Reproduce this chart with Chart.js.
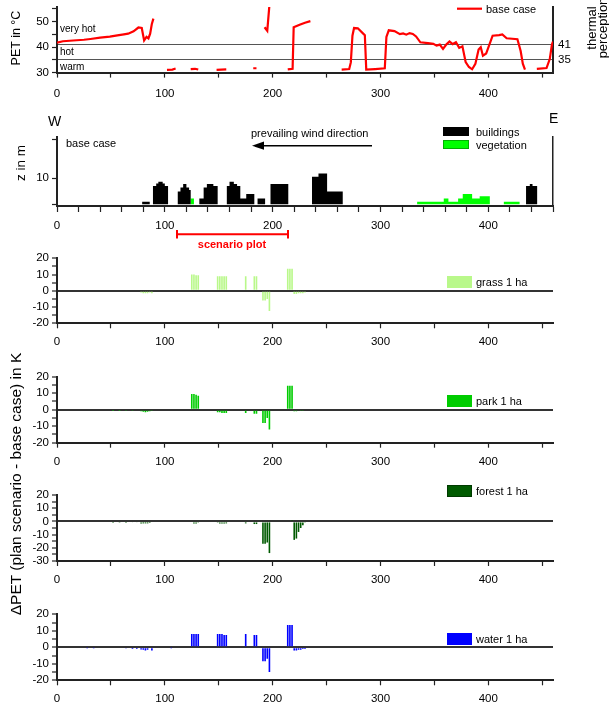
<!DOCTYPE html>
<html>
<head>
<meta charset="utf-8">
<title>PET transect</title>
<script src="https://cdn.jsdelivr.net/npm/chart.js@4.4.1/dist/chart.umd.min.js"></script>
<style>
  body { margin: 0; background: #fff; }
  #fig { position: relative; width: 609px; height: 703px; overflow: hidden; font-family: 'Liberation Sans', Arial, sans-serif; color: #000; }
  #fig canvas { position: absolute; left: 0; }
  .txt { position: absolute; white-space: nowrap; transform: translateY(-50%); line-height: 1; }
  .vtxt { position: absolute; white-space: nowrap; transform: translate(-50%, -50%) rotate(-90deg); text-align: center; }
  .box { position: absolute; box-sizing: border-box; }
</style>
</head>
<body>
<div id="fig">
  <svg width="609" height="703" style="position:absolute;left:0;top:0;z-index:2">
    <line x1="457" y1="8.7" x2="482" y2="8.7" stroke="#ff0000" stroke-width="2.2"/>
    <line x1="262" y1="145.7" x2="372" y2="145.7" stroke="#000" stroke-width="1.5"/>
    <polygon points="252,145.7 264,141.6 264,149.8" fill="#000"/>
    <line x1="177" y1="234.3" x2="288" y2="234.3" stroke="#ff0000" stroke-width="2"/>
    <line x1="177" y1="230" x2="177" y2="238.6" stroke="#ff0000" stroke-width="2"/>
    <line x1="288" y1="230" x2="288" y2="238.6" stroke="#ff0000" stroke-width="2"/>
  </svg>
</div>
<script>
// ---- values ----
let xTicks = [0, 50, 100, 150, 200, 250, 300, 350, 400, 450]
let profileTicks = [0, 20, 40, 60, 80, 100, 120, 140, 160, 180, 200, 220, 240, 260, 280, 300, 320, 340, 360, 380, 400, 420, 440, 460]
let petTicks = [30, 35, 40, 45, 50, 55]
let perceptionTicks = [35, 41]
let heightTicks = [0, 10, 25]
let diffTicks = [-20, -15, -10, -5, 0, 5, 10, 15, 20]
let forestTicks = [-30, -25, -20, -15, -10, -5, 0, 5, 10, 15, 20]

// PET of the base case along the transect (null = no value)
let petX = [0, 5.5, 15, 25, 31, 40, 49, 56, 62, 66, 71, 75.5, 78.6, 80.8, 83, 84.8, 86.4, 87.9, 89.4, 95,
    102, 107, 110, 117, 124, 128, 131, 140, 148, 157, 170, 182, 185, 189,
    192.5, 195, 197, 205, 214, 218.5, 219.5, 225, 230, 235, 250,
    264, 271, 272.5, 274, 275.5, 279, 284, 285.5, 286.8, 295, 304, 305.5, 307.7, 313, 318, 321, 324, 327, 330, 333,
    337, 344, 349, 352, 355, 358, 361, 364, 367, 370, 373, 376, 379, 382, 385, 388, 391, 393, 395, 398,
    401, 404, 410, 413, 417, 427, 430, 432, 434, 440, 445, 454, 457, 459, 460]
let petBase = [41.8, 42.3, 42.6, 42.9, 43.2, 43.7, 44.1, 44.6, 45, 45.3, 46.2, 47.7, 47.5, 42.6, 44, 43.4, 45.3, 49, 51.2, null,
    31.1, 31.2, 31.6, null, 31.4, 31.5, 31.2, null, 31.1, 31.3, null, 31.7, 31.7, null,
    47.8, 46.4, 56.5, null, 31.3, 31.5, 47.8, 48.8, 49.6, 50.2, null,
    31.2, 31.4, 34, 44.5, 47.5, 47.4, 45.3, 44.7, 31.2, 31.4, 31.7, 44, 46.6, 46.3, 45.1, 45.4, 44.9, 45.5, 45.2, 44.2,
    41.9, 41.6, 41.3, 40.6, 41, 39.3, 41, 42.2, 41.2, 41.9, 39.7, 40.3, 34.1, 32.2, 31.3, 33.4, 39.1, 40, 36.6, 37.5,
    41, 44.5, 44.7, 45, 43.5, 43.1, 38.5, 33.5, 31.2, null, 31.5, 31.8, 35.3, 41, 42.2]

// building / vegetation heights: z holds from x[i] to x[i+1]
let buildX = [0, 79, 86, 89, 92, 94, 98, 100, 103, 112, 114.5, 117, 120, 122.5, 124, 132, 136, 139, 145, 149,
    157.5, 160, 164, 167, 170, 175.5, 183, 186, 193, 198, 214.5, 236.5, 242.5, 250.5, 265, 435, 438.5, 441, 445.3, 460]
let buildZ = [0, 1, 0, 7, 8, 8.7, 8, 7, 0, 4.9, 6.5, 7.8, 6.5, 5.5, 0, 2.2, 6.5, 7.8, 7, 0,
    7, 8.7, 7.8, 7, 2.2, 4, 0, 2.2, 0, 7.8, 0, 10.6, 11.9, 4.9, 0, 7, 7.8, 7, 0, 0]
let vegX = [0, 124, 127, 334, 358.7, 363, 372, 376.3, 385, 392, 401.4, 414.4, 429, 460]
let vegZ = [0, 2.2, 0, 1, 2.2, 1, 2.2, 4, 2.2, 3.1, 0, 1, 0, 0]

// delta PET (plan scenario - base case) in K
let diffX = [28, 34, 40, 46, 52, 58, 64, 70, 74, 78, 80, 82, 84, 86, 88, 106, 125, 127, 129, 131, 149, 151, 153, 155, 157,
    175, 183, 185, 191, 193, 195, 197, 214, 216, 218, 220, 222, 224, 226, 228, 230]
let diffGrass = [0, 0, 0, 0, 0, 0, 0, 0, 0, -1, -1.5, -1.5, -1.5, -1, -1.5, 0, 10, 10, 9.5, 9.5, 9, 9, 9, 9, 9,
    9, 9, 9, -6, -6, -5, -12.5, 13.5, 13.5, 13.5, -2, -2, -1.5, -1.5, -1.5, -1]
let diffPark = [0, 0, 0, 0, -0.3, -0.3, -0.5, -0.5, -0.7, -1, -1.3, -1.5, -1.3, -1, -0.5, 0, 9.5, 9.5, 9, 8.5, -1.5, -1.5, -2, -2, -2,
    -2, -2.5, -2.5, -8, -8, -5, -12, 14.5, 14.5, 14.5, -1, -1, -0.7, -0.5, -0.5, 0]
let diffForest = [0, 0, 0, 0, -0.5, -0.5, -0.5, -0.7, -0.7, -1.5, -1.5, -1.5, -1.5, -1.2, 0, 0, 0, -1.5, -1.5, -1, -1, -1.5, -1.5, -1.5, -1.5,
    -1.5, -2, -2, -17, -17, -16, -24, 0, 0, 1, -14, -13, -8, -5, -3, -1]
let diffWater = [-0.3, -0.3, 0, -0.5, -0.5, -0.5, -0.7, -1, -1, -1.3, -1.5, -2, -1.5, -0.5, -2, -0.3, 8, 8, 8, 8, 8, 8, 8, 7.5, 7.5,
    8, 7.5, 7.5, -8.5, -8.5, -7, -15, 13.5, 13.5, 13.5, -2, -2, -1.5, -1.5, -1, -1]

let scenarioNames = ['grass 1 ha', 'park 1 ha', 'forest 1 ha', 'water 1 ha']
let scenarioColors = ['#b9f88a', '#00cc00', '#005a00', '#0000ff']

// ---- layout helpers ----
let fig = document.getElementById('fig')
let axisColor = '#222'
let fontFamily = "'Liberation Sans', Arial, sans-serif"
let tickFont = { family: fontFamily, size: 11.5 }
let plotRightPad = 609 - 553

function makeCanvas(areaTop, areaBottom, below) {
    let top = Math.floor(areaTop) - 10
    let height = Math.ceil(areaBottom + below) - top
    let canvas = document.createElement('canvas')
    canvas.width = 609
    canvas.height = height
    canvas.style.top = top + 'px'
    fig.insertBefore(canvas, fig.firstChild)
    return { canvas: canvas, padTop: areaTop - top, axisHeight: top + height - areaBottom }
}

function fixedTicks(values) {
    return function (scale) { scale.ticks = values.map(v => ({ value: v })) }
}

function xScale(ticks, axisHeight, tickLen, pad) {
    return {
        type: 'linear', min: 0, max: 460, offset: false,
        afterBuildTicks: fixedTicks(ticks),
        afterFit: s => { s.height = axisHeight },
        ticks: { autoSkip: false, maxRotation: 0, color: '#000', font: tickFont, padding: pad,
            callback: v => v % 100 === 0 ? v : '' },
        grid: { drawOnChartArea: false, offset: false, tickLength: tickLen, tickColor: axisColor, tickWidth: 1.2 },
        border: { color: axisColor, width: 2 }
    }
}

function yScale(min, max, ticks, labelled, extraGrid) {
    return {
        min: min, max: max,
        afterBuildTicks: fixedTicks(ticks),
        afterFit: s => { s.width = 57 },
        ticks: { autoSkip: false, color: '#000', font: tickFont, padding: 3,
            callback: v => labelled.indexOf(v) != -1 ? v : '' },
        grid: Object.assign({ drawOnChartArea: false, tickLength: 5, tickColor: axisColor, tickWidth: 1.2 }, extraGrid || {}),
        border: { color: axisColor, width: 2 }
    }
}

function label(text, x, y, size, extra) {
    let d = document.createElement('div')
    d.className = 'txt'
    d.textContent = text
    d.style.left = x + 'px'
    d.style.top = y + 'px'
    d.style.fontSize = size + 'px'
    if (extra) Object.assign(d.style, extra)
    fig.appendChild(d)
}

function vlabel(lines, cx, cy, size, lineHeight) {
    let d = document.createElement('div')
    d.className = 'vtxt'
    d.innerHTML = lines.join('<br>')
    d.style.left = cx + 'px'
    d.style.top = cy + 'px'
    d.style.fontSize = size + 'px'
    d.style.lineHeight = (lineHeight || size * 1.1) + 'px'
    fig.appendChild(d)
}

function box(x, y, w, h, fill, border) {
    let d = document.createElement('div')
    d.className = 'box'
    Object.assign(d.style, { left: x + 'px', top: y + 'px', width: w + 'px', height: h + 'px', background: fill,
        border: '1px solid ' + (border || fill) })
    fig.appendChild(d)
}

let baseOptions = {
    responsive: false,
    animation: false,
    events: [],
    plugins: { legend: { display: false }, tooltip: { enabled: false } }
}

// ---- panel 1: PET base case ----
let p1 = makeCanvas(5, 72.6, 30)
new Chart(p1.canvas, {
    type: 'line',
    data: {
        datasets: [{
            data: petX.map((x, i) => ({ x: x, y: petBase[i] })),
            borderColor: '#ff0000', borderWidth: 2.2, pointRadius: 0, spanGaps: false, tension: 0
        }]
    },
    options: Object.assign({}, baseOptions, {
        layout: { padding: { top: p1.padTop, left: 0, right: 0, bottom: 0 } },
        scales: {
            x: xScale(xTicks, p1.axisHeight, 5, 9),
            y: yScale(30, 55.8, petTicks, [30, 40, 50]),
            y2: {
                position: 'right', min: 30, max: 55.8,
                afterBuildTicks: fixedTicks(perceptionTicks),
                afterFit: s => { s.width = plotRightPad },
                ticks: { color: '#000', font: tickFont, padding: 5 },
                grid: { drawOnChartArea: true, drawTicks: false, color: '#555', lineWidth: 1 },
                border: { color: axisColor, width: 2 }
            }
        }
    })
})

// ---- panel 2: buildings and vegetation ----
let p2 = makeCanvas(137, 206, 26)
new Chart(p2.canvas, {
    type: 'line',
    data: {
        datasets: [
            { data: buildX.map((x, i) => ({ x: x, y: buildZ[i] })), stepped: true, fill: 'origin',
                backgroundColor: '#000', borderColor: 'rgba(0,0,0,0)', borderWidth: 0, pointRadius: 0 },
            { data: vegX.map((x, i) => ({ x: x, y: vegZ[i] })), stepped: true, fill: 'origin',
                backgroundColor: '#00ff00', borderColor: 'rgba(0,0,0,0)', borderWidth: 0, pointRadius: 0 }
        ]
    },
    options: Object.assign({}, baseOptions, {
        layout: { padding: { top: p2.padTop, left: 0, right: 0, bottom: 0 } },
        scales: {
            x: xScale(profileTicks, p2.axisHeight, 6, 7),
            y: yScale(-0.65, 25.9, heightTicks, [10]),
            y2: {
                position: 'right', min: 0, max: 1,
                afterFit: s => { s.width = plotRightPad },
                ticks: { display: false },
                grid: { display: false },
                border: { color: axisColor, width: 1.5 }
            }
        }
    })
})

// ---- panels 3-6: scenario differences ----
let diffSeries = [diffGrass, diffPark, diffForest, diffWater]
let diffAreas = [[258.3, 323.3], [376.7, 442.7], [495, 561], [614.3, 680.3]]
let legendY = [281.7, 401, 491, 638.5]

diffSeries.forEach(function (values, k) {
    let forest = k == 2
    let p = makeCanvas(diffAreas[k][0], diffAreas[k][1], 26)
    new Chart(p.canvas, {
        type: 'bar',
        data: {
            datasets: [{
                data: diffX.map((x, i) => ({ x: x, y: values[i] })),
                backgroundColor: scenarioColors[k], borderWidth: 0,
                barPercentage: 1, categoryPercentage: 0.75
            }]
        },
        options: Object.assign({}, baseOptions, {
            layout: { padding: { top: p.padTop, left: 0, right: plotRightPad, bottom: 0 } },
            scales: {
                x: xScale(xTicks, p.axisHeight, 5, 7),
                y: yScale(forest ? -30 : -20, 20, forest ? forestTicks : diffTicks,
                    forest ? [-30, -20, -10, 0, 10, 20] : [-20, -10, 0, 10, 20],
                    { drawOnChartArea: true, lineWidth: 2,
                        color: c => c.tick && c.tick.value === 0 ? '#333' : 'rgba(0,0,0,0)' })
            }
        })
    })
    box(447, legendY[k] - 6, 25, 12, scenarioColors[k], k == 2 ? '#003a00' : null)
    label(scenarioNames[k], 476, legendY[k], 11)
})

// ---- texts ----
vlabel(['PET in °C'], 17, 38, 12.5)
label('very hot', 60, 29, 10)
label('hot', 60, 51.5, 10)
label('warm', 60, 66.5, 10)
label('base case', 486, 9, 11)
vlabel(['thermal', 'perception'], 597, 28, 13, 11)

label('W', 48, 121, 14)
label('E', 549, 118, 14)
vlabel(['z in m'], 21, 163, 13.5)
label('base case', 66, 143, 11)
label('prevailing wind direction', 251, 133.3, 11)
box(443, 127.3, 26, 9, '#000')
box(443, 140, 26, 9, '#00ff00', '#00b000')
label('buildings', 476, 131.7, 11)
label('vegetation', 476, 144.7, 11)
label('scenario plot', 232, 244, 11, { color: '#ff0000', fontWeight: 'bold', transform: 'translate(-50%, -50%)' })

vlabel(['\u0394PET (plan scenario - base case) in K'], 16, 484, 15.5)
</script>
</body>
</html>
